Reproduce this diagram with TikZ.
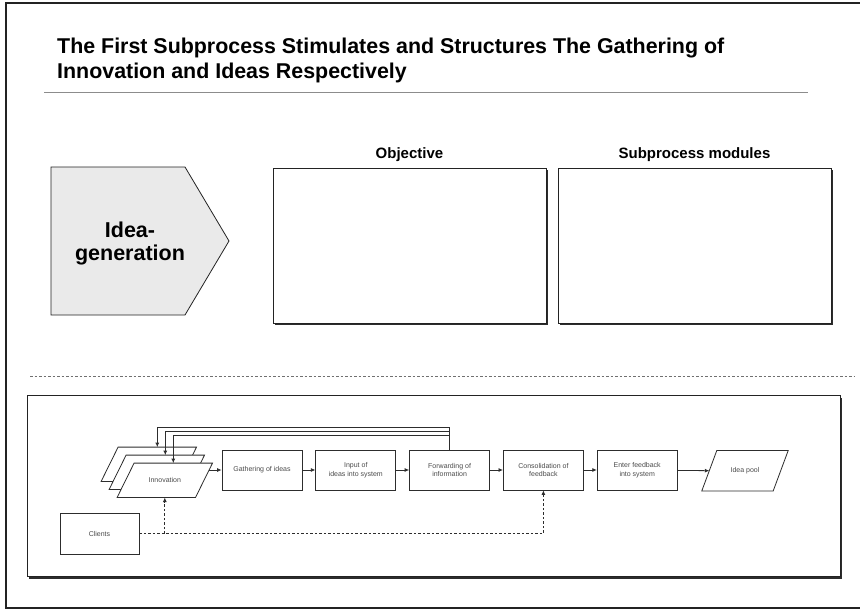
\documentclass[tikz,border=0pt]{standalone}
\usepackage{fontspec}
\setmainfont{Liberation Sans}
\usetikzlibrary{arrows.meta,positioning}

\definecolor{framegray}{RGB}{35,35,35}
\definecolor{rulegray}{RGB}{140,140,140}
\definecolor{chevfill}{RGB}{234,234,234}
\definecolor{flowline}{RGB}{45,45,45}
\definecolor{flowtext}{RGB}{75,75,75}

\tikzset{
  flowfont/.style={text=flowtext, font=\fontsize{7}{8.5}\selectfont},
  procbox/.style={flowfont, draw=flowline, line width=0.8pt, fill=white, minimum width=80, minimum height=40,
    inner sep=0pt, align=center},
  databox/.style={flowfont, minimum width=95, minimum height=34, inner sep=0pt},
  poolbox/.style={flowfont, minimum width=86, minimum height=40, inner sep=0pt},
  dataline/.style={draw=flowline, line width=0.8pt, fill=white, line join=miter},
  flow/.style={draw=flowline, line width=0.8pt, -{Latex[length=4.5pt,width=4pt]}},
  dashflow/.style={flow, dash pattern=on 2.5pt off 2pt},
  panel/.style={draw=framegray, line width=0.9pt, fill=white, minimum width=273, minimum height=155, inner sep=0pt},
  panelhead/.style={anchor=base, inner sep=0pt, font=\bfseries\fontsize{15}{18}\selectfont},
  titletext/.style={anchor=base west, inner sep=0pt, font=\bfseries\fontsize{21.4}{25}\selectfont},
  shadowfill/.style={fill=flowline},
}

\begin{document}
\begin{tikzpicture}[x=1pt,y=1pt,yscale=-1]
  \useasboundingbox (0,0) rectangle (860,610);
  \fill[white] (0,0) rectangle (860,610);

  %Shape: Outer frame
  \draw[framegray, line width=1.8pt] (862,3.3) -- (6,3.3) -- (6,608) -- (862,608);

  % Text Node
  \node[titletext] (title1) at (57,53.3) {The First Subprocess Stimulates and Structures The Gathering of};
  % Text Node
  \node[titletext] (title2) at (57,78.3) {Innovation and Ideas Respectively};
  %Straight Lines
  \draw[rulegray, line width=0.9pt] (44,92.3) -- (808,92.3);

  %Shape: Chevron
  \draw[framegray, fill=chevfill, line width=0.8pt] (51,167) -- (185,167) -- (229,241) -- (185,315) -- (51,315) -- cycle;
  % Text Node
  \node[align=center, inner sep=0pt, font=\bfseries\fontsize{21.5}{23.5}\selectfont] (ideagen) at (130,243.5)
    {Idea-\\generation};

  %Shape: Panels with shadow
  \fill[shadowfill] (275,169.5) rectangle (548,325);
  \node[panel] (objective) at (409.5,245.5) {};
  \fill[shadowfill] (560,169.5) rectangle (833,325);
  \node[panel] (modules) at (694.5,245.5) {};
  % Text Node
  \node[panelhead] (objhead) at (409.5,158.5) {Objective};
  % Text Node
  \node[panelhead] (modhead) at (694.5,158.5) {Subprocess modules};

  %Straight Lines: separator
  \draw[rulegray!80!black, line width=0.9pt, dash pattern=on 2.5pt off 2pt] (30,376) -- (855,376);

  %Shape: Process frame with shadow
  \fill[shadowfill] (29,397.5) rectangle (841.5,578.5);
  \draw[framegray, fill=white, line width=0.9pt] (27.3,395.7) rectangle (840,576.7);

  % Input stack (slanted outlines drawn over the node boxes)
  \node[databox] (innovC) at (148.8,464.3) {};
  \node[databox] (innovB) at (156.8,472.3) {};
  \node[databox] (innovA) at (164.8,480.3) {};
  \draw[dataline] ([xshift=17pt]innovC.north west) -- (innovC.north east) -- ([xshift=-17pt]innovC.south east) -- (innovC.south west) -- cycle;
  \draw[dataline] ([xshift=17pt]innovB.north west) -- (innovB.north east) -- ([xshift=-17pt]innovB.south east) -- (innovB.south west) -- cycle;
  \draw[dataline] ([xshift=17pt]innovA.north west) -- (innovA.north east) -- ([xshift=-17pt]innovA.south east) -- (innovA.south west) -- cycle;
  \node[flowfont, inner sep=0pt] (innovtext) at (innovA) {Innovation};

  % Process chain
  \node[procbox] (gather) at (262,470) {Gathering of ideas};
  \node[procbox, right=13pt of gather] (input) {Input of\\ideas into system};
  \node[procbox, right=13pt of input] (forward) {Forwarding of\\information};
  \node[procbox, right=13pt of forward] (consol) {Consolidation of\\feedback};
  \node[procbox, right=13pt of consol] (enter) {Enter feedback\\into system};
  \node[poolbox] (pool) at (745,470.7) {Idea pool};
  \draw[dataline, fill=none] ([xshift=15pt]pool.north west) -- (pool.north east) -- ([xshift=-15pt]pool.south east) -- (pool.south west) -- cycle;
  \node[procbox, minimum width=79, minimum height=40.7] (clients) at (99.5,533.7) {Clients};

  \coordinate (innovout) at (209,470);
  \coordinate (fbC) at (0,427.3);
  \coordinate (fbB) at (0,431);
  \coordinate (fbA) at (0,435);

  %Straight Lines: chain
  \draw[flow] (innovout) -- (gather);
  \draw[flow] (gather) -- (input);
  \draw[flow] (input) -- (forward);
  \draw[flow] (forward) -- (consol);
  \draw[flow] (consol) -- (enter);
  \draw[flow] (enter) -- ([xshift=7.5pt]pool.west);

  %Straight Lines: feedback
  \draw[flow] (forward.north) -- (forward.north |- fbC) -| ([xshift=8.5pt]innovC.north);
  \draw[flow] (forward.north |- fbB) -| ([xshift=8.5pt]innovB.north);
  \draw[flow] (forward.north |- fbA) -| ([xshift=8.5pt]innovA.north);

  %Straight Lines: clients
  \draw[dashflow] (clients.east) -| (consol.south);
  \draw[dashflow] (innovA.south |- clients.east) -- (innovA.south);
\end{tikzpicture}
\end{document}
